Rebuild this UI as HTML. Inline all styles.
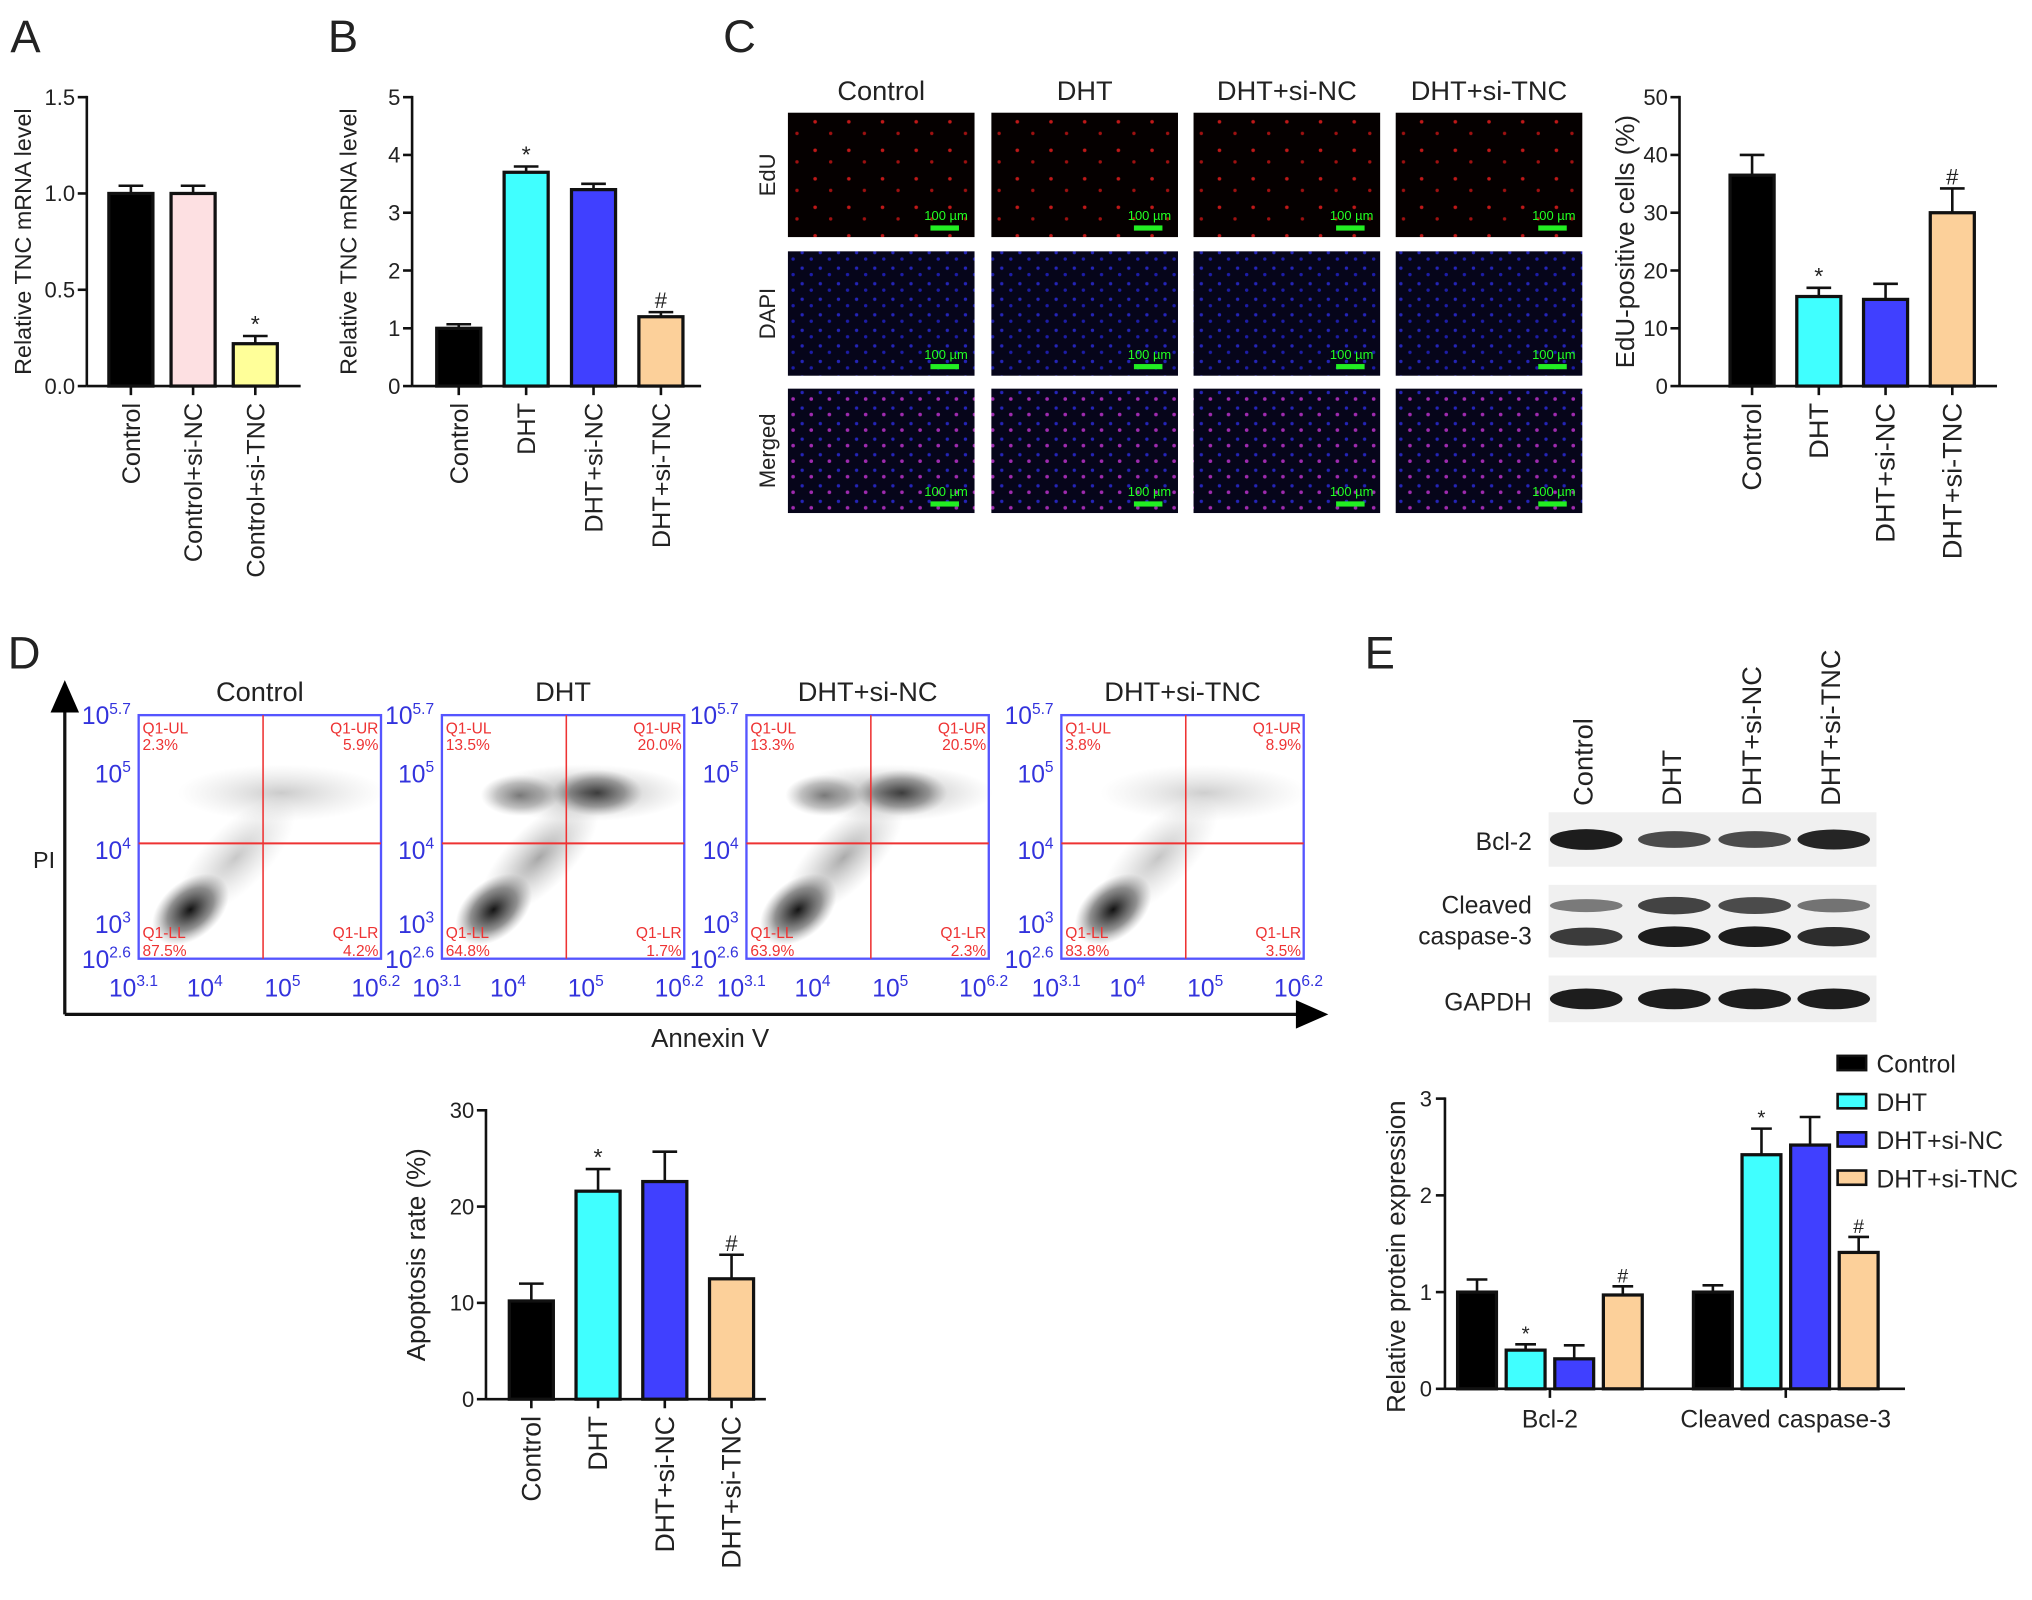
<!DOCTYPE html>
<html><head><meta charset="utf-8"><style>
html,body{margin:0;padding:0;background:#fff}
svg{display:block}
text{font-family:"Liberation Sans",Arial,sans-serif;fill:#222}
</style></head><body>
<svg id="fig" width="2032" height="1600" viewBox="0 0 1568 1235" preserveAspectRatio="none" xmlns="http://www.w3.org/2000/svg">
<defs>
<pattern id="pRed" width="26" height="22" patternUnits="userSpaceOnUse"><rect width="26" height="22" fill="#050000"/><circle cx="5" cy="6" r="1.4" fill="#c01818"/><circle cx="17" cy="15" r="1.3" fill="#a01010"/></pattern>
<pattern id="pBlue" width="14" height="12" patternUnits="userSpaceOnUse"><rect width="14" height="12" fill="#06051a"/><circle cx="3" cy="3" r="1.3" fill="#2424b8"/><circle cx="10" cy="8" r="1.3" fill="#1c1ca8"/></pattern>
<pattern id="pMerge" width="14" height="12" patternUnits="userSpaceOnUse"><rect width="14" height="12" fill="#06051a"/><circle cx="3" cy="3" r="1.3" fill="#2424b8"/><circle cx="10" cy="8" r="1.4" fill="#a02ab0"/></pattern>
<radialGradient id="gDot"><stop offset="0" stop-color="#000" stop-opacity="0.95"/><stop offset="0.6" stop-color="#222" stop-opacity="0.5"/><stop offset="1" stop-color="#666" stop-opacity="0"/></radialGradient>
<radialGradient id="gLight"><stop offset="0" stop-color="#555" stop-opacity="0.6"/><stop offset="1" stop-color="#999" stop-opacity="0"/></radialGradient>
</defs>
<g id="root"></g>
</svg>
<script>
// ---- Data ----
const catsA = ["Control","Control+si-NC","Control+si-TNC"];
const valsA = [1.0, 1.0, 0.22];
const errA = [0.04, 0.04, 0.04];
const marksA = ["", "", "*"];
const ticksA = [0, 0.5, 1.0, 1.5];
const tickLabelsA = ["0.0","0.5","1.0","1.5"];

const catsB = ["Control","DHT","DHT+si-NC","DHT+si-TNC"];
const valsB = [1.0, 3.7, 3.4, 1.2];
const errB = [0.07, 0.1, 0.1, 0.08];
const marksB = ["", "*", "", "#"];
const ticksB = [0,1,2,3,4,5];

const catsC = ["Control","DHT","DHT+si-NC","DHT+si-TNC"];
const valsC = [36.5, 15.5, 15.0, 30.0];
const errC = [3.5, 1.5, 2.7, 4.2];
const marksC = ["", "*", "", "#"];
const ticksC = [0,10,20,30,40,50];

const catsD = ["Control","DHT","DHT+si-NC","DHT+si-TNC"];
const valsD = [10.2, 21.6, 22.6, 12.5];
const errD = [1.8, 2.3, 3.1, 2.5];
const marksD = ["", "*", "", "#"];
const ticksD = [0,10,20,30];

const groupsE = ["Bcl-2","Cleaved caspase-3"];
const seriesE = ["Control","DHT","DHT+si-NC","DHT+si-TNC"];
const valsEbcl = [1.0, 0.4, 0.31, 0.97];
const errEbcl = [0.13, 0.06, 0.14, 0.09];
const valsEcas = [1.0, 2.42, 2.52, 1.41];
const errEcas = [0.07, 0.27, 0.29, 0.16];
const marksEbcl = ["", "*", "", "#"];
const marksEcas = ["", "*", "", "#"];
const ticksE = [0,1,2,3];

const flowTitles = ["Control","DHT","DHT+si-NC","DHT+si-TNC"];
const flowUL = ["2.3%","13.5%","13.3%","3.8%"];
const flowUR = ["5.9%","20.0%","20.5%","8.9%"];
const flowLL = ["87.5%","64.8%","63.9%","83.8%"];
const flowLR = ["4.2%","1.7%","2.3%","3.5%"];

const colorsA = ["#000000","#fde0e2","#ffff99"];
const colors4 = ["#000000","#40ffff","#4040ff","#fcd09a"];

// ---- helpers ----
const NS="http://www.w3.org/2000/svg";
const root=document.getElementById('root');
function el(tag, attrs, parent, txt){
  const e=document.createElementNS(NS,tag);
  for(const k in attrs) e.setAttribute(k,attrs[k]);
  if(txt!==undefined) e.textContent=txt;
  (parent||root).appendChild(e);
  return e;
}
function grp(name,parent){
  const g=el('g',{},parent);
  
  
  return g;
}
function txt(parent,x,y,s,size,anchor,extra){
  return el('text',Object.assign({x:x,y:y,'font-size':size,'text-anchor':anchor||'start'},extra||{}),parent,s);
}

function barChart(o){
  const g=grp(o.name);
  const y=v=>o.y0-(v-o.min)/(o.max-o.min)*(o.y0-o.yTop);
  const ax=el('line',{x1:o.x0,y1:o.yTop-1,x2:o.x0,y2:o.y0,stroke:'#111','stroke-width':2},g);
  
  
  o.ticks.forEach((t,i)=>{
    el('line',{x1:o.x0-7,y1:y(t),x2:o.x0,y2:y(t),stroke:'#111','stroke-width':2},g);
    const lb=txt(g,o.x0-9,y(t)+6,o.tickLabels?o.tickLabels[i]:String(t),17,'end');
    
    
  });
  const xa=el('line',{x1:o.x0,y1:o.y0,x2:o.xEnd,y2:o.y0,stroke:'#111','stroke-width':2},g);
  
  
  const yt=txt(g,0,0,o.ylabel,o.ylfs||19,'middle',{transform:`translate(${o.ylx},${(o.y0+o.yTop)/2}) rotate(-90)`});
  
  
  o.vals.forEach((v,i)=>{
    const cx=o.x0+o.first+i*o.step;
    const top=y(v), et=y(v+o.errs[i]);
    el('line',{x1:cx,y1:top,x2:cx,y2:et,stroke:'#111','stroke-width':2},g);
    el('line',{x1:cx-o.w*0.28,y1:et,x2:cx+o.w*0.28,y2:et,stroke:'#111','stroke-width':2},g);
    const b=el('rect',{x:cx-o.w/2,y:top,width:o.w,height:o.y0-top,fill:o.colors[i],stroke:'#111','stroke-width':2.5},g);
    
    
    if(o.marks[i]){ const m=txt(g,cx,et-3,o.marks[i],o.marks[i]=='*'?18:17,'middle');   }
    el('line',{x1:cx,y1:o.y0,x2:cx,y2:o.y0+7,stroke:'#111','stroke-width':2},g);
    const cl=txt(g,0,0,o.cats[i],o.cfs||19,'end',{transform:`translate(${cx+7},${o.y0+13}) rotate(-90)`});
    
    
  });
  return g;
}

[["A",8,40],["B",253,40],["C",558,40],["D",6,516],["E",1053,516]].forEach(p=>{
  const t=txt(root,p[1],p[2],p[0],35,'start');
  
  
});

barChart({name:'chart-a',cats:catsA,vals:valsA,errs:errA,marks:marksA,colors:colorsA,ticks:ticksA,tickLabels:tickLabelsA,
  min:0,max:1.5,x0:67,yTop:75,y0:298,xEnd:232,first:34,step:48,w:34,ylabel:'Relative TNC mRNA level',ylx:24,cfs:19.5,ylfs:18});
barChart({name:'chart-b',cats:catsB,vals:valsB,errs:errB,marks:marksB,colors:colors4,ticks:ticksB,
  min:0,max:5,x0:318,yTop:75,y0:298,xEnd:541,first:36,step:52,w:34,ylabel:'Relative TNC mRNA level',ylx:275,cfs:19.5,ylfs:18});
barChart({name:'chart-c-edu',cats:catsC,vals:valsC,errs:errC,marks:marksC,colors:colors4,ticks:ticksC,
  min:0,max:50,x0:1296,yTop:75,y0:298,xEnd:1541,first:56,step:51.5,w:34,ylabel:'EdU-positive cells (%)',ylx:1261,cfs:21,ylfs:20});
barChart({name:'chart-d-apoptosis',cats:catsD,vals:valsD,errs:errD,marks:marksD,colors:colors4,ticks:ticksD,
  min:0,max:30,x0:375,yTop:857,y0:1080,xEnd:591,first:35,step:51.5,w:34,ylabel:'Apoptosis rate (%)',ylx:328,cfs:20.5,ylfs:20});

// ---- Panel C images ----
(function(){
  const g=grp('edu-image-grid');
  const cols=[608,765,921,1077], rows=[87,194,300], fills=['url(#pRed)','url(#pBlue)','url(#pMerge)'];
  const rowLabels=['EdU','DAPI','Merged'];
  flowTitles.forEach((t,i)=>{const tt=txt(g,cols[i]+72,77,t,21,'middle');  });
  rowLabels.forEach((r,j)=>{const rt=txt(g,0,0,r,17,'middle',{transform:`translate(598,${rows[j]+48}) rotate(-90)`});  });
  rows.forEach((ry,j)=>cols.forEach((cx,i)=>{
    const r=el('rect',{x:cx,y:ry,width:144,height:96,fill:fills[j]},g);
    
    
    txt(g,cx+122,ry+83,'100 µm',10,'middle',{style:'fill:#2f2'});
    el('rect',{x:cx+110,y:ry+87,width:22,height:4,fill:'#2e2'},g);
  }));
})();

// ---- Panel D flow plots ----
(function(){
  const g=grp('flow-cytometry');
  el('line',{x1:50,y1:783,x2:1003,y2:783,stroke:'#111','stroke-width':2.5},g);
  el('polygon',{points:'1000,772 1025,783 1000,794',fill:'#000'},g);
  el('line',{x1:50,y1:783,x2:50,y2:548,stroke:'#111','stroke-width':2.5},g);
  el('polygon',{points:'39,550 50,525 61,550',fill:'#000'},g);
  const pl=txt(g,34,670,'PI',18,'middle');  
  const an=txt(g,548,808,'Annexin V',20,'middle');  
  const xs=[107,341,576,819];
  const dens=[[0.35,0.1],[1,0.9],[0.95,0.8],[0.3,0.15]];
  xs.forEach((x0,i)=>{
    const w=187,h=188,y0=552;
    const pg=grp('flow-plot-'+i,g);
    const tt=txt(pg,x0+w/2,541,flowTitles[i],21,'middle');  
    el('ellipse',{cx:x0+40,cy:y0+150,rx:34,ry:22,fill:'url(#gDot)',transform:`rotate(-40 ${x0+40} ${y0+150})`},pg);
    el('ellipse',{cx:x0+75,cy:y0+110,rx:60,ry:25,fill:'url(#gLight)',transform:`rotate(-45 ${x0+75} ${y0+110})`,opacity:0.5+dens[i][1]*0.4},pg);
    el('ellipse',{cx:x0+110,cy:y0+60,rx:80,ry:22,fill:'url(#gLight)',opacity:0.3+dens[i][0]*0.6},pg);
    if(dens[i][0]>0.5){
      el('ellipse',{cx:x0+120,cy:y0+60,rx:35,ry:18,fill:'url(#gDot)',opacity:0.7},pg);
      el('ellipse',{cx:x0+60,cy:y0+62,rx:30,ry:16,fill:'url(#gDot)',opacity:0.5},pg);
    }
    el('rect',{x:x0,y:y0,width:w,height:h,fill:'none',stroke:'#55f','stroke-width':1.8},pg);
    el('line',{x1:x0+96,y1:y0,x2:x0+96,y2:y0+h,stroke:'#e33','stroke-width':1.2},pg);
    el('line',{x1:x0,y1:y0+99,x2:x0+w,y2:y0+99,stroke:'#e33','stroke-width':1.5},pg);
    const red={style:'fill:#e33'};
    txt(pg,x0+3,y0+14,'Q1-UL',12,'start',red); txt(pg,x0+3,y0+27,flowUL[i],12,'start',red);
    txt(pg,x0+w-2,y0+14,'Q1-UR',12,'end',red); txt(pg,x0+w-2,y0+27,flowUR[i],12,'end',red);
    txt(pg,x0+3,y0+172,'Q1-LL',12,'start',red); txt(pg,x0+3,y0+186,flowLL[i],12,'start',red);
    txt(pg,x0+w-2,y0+172,'Q1-LR',12,'end',red); txt(pg,x0+w-2,y0+186,flowLR[i],12,'end',red);
    [["5.7",0],["5",45],["4",104],["3",161],["2.6",188]].forEach(t=>{
      const tl=el('text',{x:x0-6,y:y0+t[1]+7,'font-size':19,'text-anchor':'end',style:'fill:#33d'},pg);
      tl.textContent='10'; el('tspan',{dy:-8,'font-size':12},tl,t[0]);
    });
    [["3.1",0],["4",55],["5",115],["6.2",w]].forEach(t=>{
      const tl=el('text',{x:x0+t[1]-4,y:y0+h+29,'font-size':19,'text-anchor':'middle',style:'fill:#33d'},pg);
      tl.textContent='10'; el('tspan',{dy:-8,'font-size':12},tl,t[0]);
    });
  });
})();

// ---- Panel E blots ----
(function(){
  const g=grp('western-blot');
  const lanes=[1222,1290,1352,1413];
  flowTitles.forEach((t,i)=>{const l=txt(g,0,0,t,21,'start',{transform:`translate(${lanes[i]+7},${622}) rotate(-90)`});  });
  const rowsB=[{y:627,h:42,bands:[[0,1.0],[0,0.7],[0,0.7],[0,0.95]]},
              {y:683,h:56,bands:[[-12,0.4],[-12,0.75],[-12,0.7],[-12,0.45],[12,0.8],[12,1.0],[12,1.0],[12,0.9]]},
              {y:753,h:36,bands:[[0,1],[0,1],[0,1],[0,1]]}];
  rowsB.forEach(r=>{
    const bx=el('rect',{x:1195,y:r.y,width:253,height:r.h,fill:'#f0f0f0'},g);
    
    
    r.bands.forEach((b,k)=>{
      const cx=lanes[k%4]+2, cy=r.y+r.h/2+b[0];
      el('ellipse',{cx:cx,cy:cy,rx:28,ry:3+5*b[1],fill:'#111',opacity:0.25+0.7*b[1]},g);
    });
  });
  txt(g,1182,656,'Bcl-2',19,'end'); txt(g,1182,705,'Cleaved',19,'end'); txt(g,1182,729,'caspase-3',19,'end'); txt(g,1182,780,'GAPDH',19,'end');
})();

// ---- Panel E chart ----
(function(){
  const g=grp('chart-e-protein');
  const x0=1115,yTop=848,y0=1072,min=0,max=3;
  const y=v=>y0-(v-min)/(max-min)*(y0-yTop);
  el('line',{x1:x0,y1:yTop-1,x2:x0,y2:y0,stroke:'#111','stroke-width':2},g);
  el('line',{x1:x0,y1:y0,x2:1470,y2:y0,stroke:'#111','stroke-width':2},g);
  ticksE.forEach(t=>{el('line',{x1:x0-7,y1:y(t),x2:x0,y2:y(t),stroke:'#111','stroke-width':2},g); txt(g,x0-10,y(t)+6,String(t),17,'end');});
  const yt=txt(g,0,0,'Relative protein expression',20,'middle',{transform:`translate(1084,${(y0+yTop)/2+10}) rotate(-90)`});
   
  const groupCenters=[1196,1378], step=37.5, w=30;
  const gv=[valsEbcl,valsEcas], ge=[errEbcl,errEcas], gm=[marksEbcl,marksEcas];
  groupsE.forEach((gn,gi)=>{
    el('line',{x1:groupCenters[gi],y1:y0,x2:groupCenters[gi],y2:y0+7,stroke:'#111','stroke-width':2},g);
    const gl=txt(g,groupCenters[gi],y0+30,gn,19,'middle');  
    gv[gi].forEach((v,i)=>{
      const cx=groupCenters[gi]+(i-1.5)*step;
      const top=y(v), et=y(v+ge[gi][i]);
      el('line',{x1:cx,y1:top,x2:cx,y2:et,stroke:'#111','stroke-width':2},g);
      el('line',{x1:cx-8,y1:et,x2:cx+8,y2:et,stroke:'#111','stroke-width':2},g);
      const b=el('rect',{x:cx-w/2,y:top,width:w,height:y0-top,fill:colors4[i],stroke:'#111','stroke-width':2.5},g);
      
      
      if(gm[gi][i]) txt(g,cx,et-3,gm[gi][i],gm[gi][i]=='*'?16:15,'middle');
    });
  });
  seriesE.forEach((s,i)=>{
    const ly=821+i*29.5;
    const lg=grp('legend-entry',g);
    el('rect',{x:1418,y:ly-6,width:22,height:11,fill:colors4[i],stroke:'#111','stroke-width':2},lg);
    txt(lg,1448,ly+7,s,19,'start');
  });
})();
</script>
</body></html>
